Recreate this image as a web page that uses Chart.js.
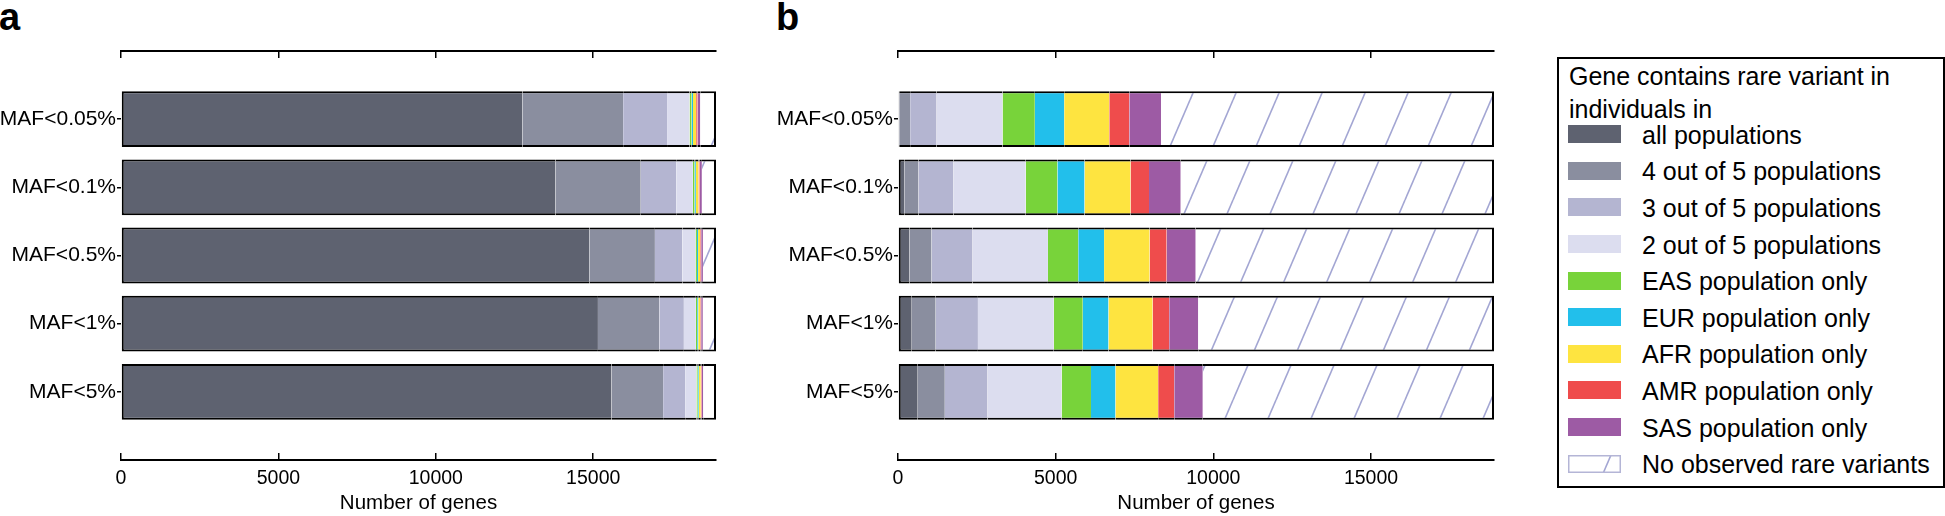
<!DOCTYPE html>
<html>
<head>
<meta charset="utf-8">
<script src="https://cdn.jsdelivr.net/npm/chart.js@4.4.1/dist/chart.umd.min.js"></script>
<style>
  body { margin: 0; background: #fff; width: 1945px; height: 516px; overflow: hidden; position: relative;
         font-family: 'Liberation Sans', Arial, sans-serif; color: #000; }
  .panel-label { position: absolute; top: -2px; font-weight: bold; font-size: 38px; line-height: 38px; }
  #chartA { position: absolute; left: 0; top: 0; }
  #chartB { position: absolute; left: 760px; top: 0; }
  #legend { position: absolute; left: 1557px; top: 57px; width: 388px; height: 431px; box-sizing: border-box;
            border: 2px solid #000; padding-top: 1px; }
  #legend .title { font-size: 25px; line-height: 33px; padding-left: 10px; }
  #legend .rows { margin-top: -10px; }
  #legend .row { display: flex; align-items: center; height: 36.6px; }
  #legend canvas { margin-left: 9px; }
  #legend .txt { font-size: 25px; margin-left: 21px; white-space: nowrap; position: relative; top: 1px; }
</style>
</head>
<body>
<div class="panel-label" style="left:-1px">a</div>
<div class="panel-label" style="left:776px">b</div>
<canvas id="chartA" width="730" height="516"></canvas>
<canvas id="chartB" width="750" height="516"></canvas>
<div id="legend"><div class="title">Gene contains rare variant in<br>individuals in</div><div class="rows"></div></div>
<script>
// categories and series
var categories = [ 'MAF<0.05%', 'MAF<0.1%', 'MAF<0.5%', 'MAF<1%', 'MAF<5%' ];
var seriesNames = [ 'all populations', '4 out of 5 populations', '3 out of 5 populations', '2 out of 5 populations',
	'EAS population only', 'EUR population only', 'AFR population only', 'AMR population only',
	'SAS population only', 'No observed rare variants' ];
var seriesColors = [ '#5e6270', '#8a8e9f', '#b4b5d1', '#dcddef', '#78d33a', '#22bfeb', '#fee440', '#ef4c4c', '#9d5ba4', 'hatch' ];
var xTicks = [ 0, 5000, 10000, 15000 ];
var totalGenes = 18900;

// panel a
var aAll   = [ 12750, 13800, 14880, 15150, 15580 ];
var aFour  = [ 3200, 2710, 2080, 1950, 1640 ];
var aThree = [ 1395, 1125, 870, 780, 700 ];
var aTwo   = [ 715, 530, 420, 380, 360 ];
var aEAS   = [ 65, 55, 45, 42, 40 ];
var aEUR   = [ 45, 40, 35, 33, 32 ];
var aAFR   = [ 100, 85, 70, 67, 65 ];
var aAMR   = [ 45, 36, 30, 28, 27 ];
var aSAS   = [ 85, 70, 55, 52, 49 ];
var aNone  = [ 500, 449, 415, 418, 407 ];

// panel b
var bAll   = [ 40, 200, 365, 435, 625 ];
var bFour  = [ 345, 450, 700, 760, 860 ];
var bThree = [ 840, 1110, 1300, 1340, 1355 ];
var bTwo   = [ 2090, 2290, 2390, 2405, 2350 ];
var bEAS   = [ 1025, 1005, 960, 920, 930 ];
var bEUR   = [ 930, 860, 820, 815, 775 ];
var bAFR   = [ 1430, 1460, 1445, 1400, 1355 ];
var bAMR   = [ 635, 585, 540, 525, 510 ];
var bSAS   = [ 1005, 1005, 920, 920, 905 ];
var bNone  = [ 10560, 9935, 9460, 9380, 9235 ];

Chart.defaults.font.family = "'Liberation Sans', Arial, sans-serif";
Chart.defaults.color = '#000';

function makeHatch( ctx ) {
	var w = 43, h = 100;
	var tile = document.createElement( 'canvas' );
	tile.width = w;
	tile.height = h;
	var g = tile.getContext( '2d' );
	g.fillStyle = '#fff';
	g.fillRect( 0, 0, w, h );
	g.strokeStyle = '#a3a6d3';
	g.lineWidth = 1.6;
	[ -w, 0, w ].forEach( function( dx ) {
		g.beginPath();
		g.moveTo( dx, h );
		g.lineTo( dx + w, 0 );
		g.stroke();
	} );
	return ctx.createPattern( tile, 'repeat' );
}

// empty slots above and below keep the bars away from the offset axes
var padded = [ '' ].concat( categories, [ '' ] );
function isPad( c ) {
	return c.index === 0 || c.index === padded.length - 1;
}
function tickColor( c ) {
	return isPad( c ) ? 'rgba(0,0,0,0)' : '#000';
}

function makeChart( id, seriesList, leftWidth, rightWidth ) {
	var ctx = document.getElementById( id ).getContext( '2d' );
	var hatch = makeHatch( ctx );
	var datasets = seriesList.map( function( vals, i ) {
		return {
			label: seriesNames[ i ],
			data: [ null ].concat( vals, [ null ] ),
			backgroundColor: seriesColors[ i ] === 'hatch' ? hatch : seriesColors[ i ],
			borderColor: '#000',
			borderWidth: { top: 2, bottom: 2, left: i === 0 ? 2 : 0, right: i === seriesList.length - 1 ? 2 : 0 },
			borderSkipped: false,
			barPercentage: 0.82,
			categoryPercentage: 1
		};
	} );
	var setTicks = function( s ) {
		s.ticks = xTicks.map( function( v ) { return { value: v }; } );
	};
	return new Chart( ctx, {
		type: 'bar',
		data: { labels: padded, datasets: datasets },
		options: {
			indexAxis: 'y',
			responsive: false,
			animation: false,
			layout: { padding: 0 },
			plugins: { legend: { display: false }, tooltip: { enabled: false } },
			scales: {
				x: {
					type: 'linear', position: 'bottom', stacked: true, min: 0, max: totalGenes,
					afterBuildTicks: setTicks,
					afterFit: function( s ) { s.height = 56; },
					grid: { drawOnChartArea: false, drawTicks: true, tickLength: -7, color: '#000', lineWidth: 1.5 },
					border: { display: true, color: '#000', width: 2 },
					ticks: {
						font: { size: 19.5 }, padding: 14, maxRotation: 0, autoSkip: false,
						callback: function( v ) { return String( v ); }
					},
					title: { display: true, text: 'Number of genes', font: { size: 20.5 }, padding: { top: 0, bottom: 0 } }
				},
				xTop: {
					type: 'linear', position: 'top', min: 0, max: totalGenes,
					afterBuildTicks: setTicks,
					afterFit: function( s ) { s.height = 51; },
					grid: { drawOnChartArea: false, drawTicks: true, tickLength: -7, color: '#000', lineWidth: 1.5 },
					border: { display: true, color: '#000', width: 2 },
					ticks: { display: false }
				},
				y: {
					type: 'category', position: 'left', stacked: true, offset: false,
					afterFit: function( s ) { s.width = leftWidth; },
					grid: { offset: false, drawOnChartArea: false, tickLength: 4, color: tickColor, lineWidth: 1.5 },
					border: { display: false },
					ticks: { font: { size: 21 }, padding: 1, autoSkip: false }
				},
				yRight: {
					type: 'category', position: 'right', offset: false,
					afterFit: function( s ) { s.width = rightWidth; },
					grid: { offset: false, drawOnChartArea: false, tickLength: -7, color: tickColor, lineWidth: 1.5 },
					border: { display: false },
					ticks: { display: false }
				}
			}
		}
	} );
}

var chartA = makeChart( 'chartA', [ aAll, aFour, aThree, aTwo, aEAS, aEUR, aAFR, aAMR, aSAS, aNone ], 121, 14 );
var chartB = makeChart( 'chartB', [ bAll, bFour, bThree, bTwo, bEAS, bEUR, bAFR, bAMR, bSAS, bNone ], 138, 16 );

// legend built from panel b datasets
var rows = document.querySelector( '#legend .rows' );
chartB.data.datasets.forEach( function( ds, i ) {
	var row = document.createElement( 'div' );
	row.className = 'row';
	var sw = document.createElement( 'canvas' );
	sw.width = 53;
	sw.height = 18;
	var g = sw.getContext( '2d' );
	if ( seriesColors[ i ] === 'hatch' ) {
		g.fillStyle = makeHatch( g );
		g.fillRect( 0, 0, 53, 18 );
		g.strokeStyle = '#b4b5d6';
		g.lineWidth = 1.5;
		g.strokeRect( 0.75, 0.75, 51.5, 16.5 );
	} else {
		g.fillStyle = ds.backgroundColor;
		g.fillRect( 0, 0, 53, 18 );
	}
	var txt = document.createElement( 'span' );
	txt.className = 'txt';
	txt.textContent = ds.label;
	row.appendChild( sw );
	row.appendChild( txt );
	rows.appendChild( row );
} );
</script>
</body>
</html>
